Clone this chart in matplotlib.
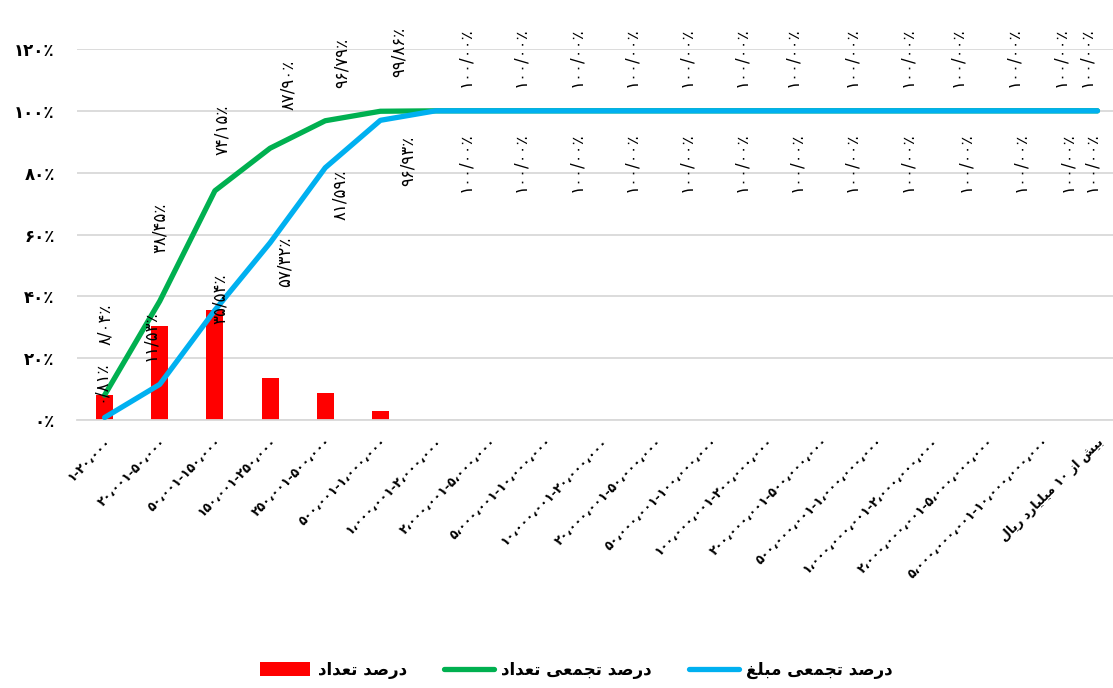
import re
import matplotlib
matplotlib.use('Agg')
import matplotlib.pyplot as plt
import numpy as np

plt.rcParams['font.family'] = ['DejaVu Sans']

# categories (rial ranges), written in latin digits and converted below
ranges = ['1-20,000', '20,001-50,000', '50,001-150,000', '150,001-250,000',
          '250,001-500,000', '500,001-1,000,000', '1,000,001-2,000,000',
          '2,000,001-5,000,000', '5,000,001-10,000,000', '10,000,001-20,000,000',
          '20,000,001-50,000,000', '50,000,001-100,000,000',
          '100,000,001-200,000,000', '200,000,001-500,000,000',
          '500,000,001-1,000,000,000', '1,000,000,001-2,000,000,000',
          '2,000,000,001-5,000,000,000', '5,000,000,001-10,000,000,000']
last_range = 'بیش از ۱۰ میلیارد ریال'

count_pct = [8.04, 30.41, 35.70, 13.75, 8.89, 3.07, 0.14, 0, 0, 0,
             0, 0, 0, 0, 0, 0, 0, 0, 0]
cum_count = [8.04, 38.45, 74.15, 87.90, 96.79, 99.86, 100, 100, 100, 100,
             100, 100, 100, 100, 100, 100, 100, 100, 100]
cum_amount = [0.81, 11.53, 35.54, 57.32, 81.59, 96.93, 100, 100, 100, 100,
              100, 100, 100, 100, 100, 100, 100, 100, 100]

legend_names = ['درصد تعداد', 'درصد تجمعی تعداد', 'درصد تجمعی مبلغ']

# label offsets in pixels (hand placed in the original)
g_dx = [0, 0, 7, 18, 17, 18, 30, 30, 30, 30, 30, 30, 26, 30, 30, 25, 26, 18, -11]
g_dy = [50, 48, 36, 38, 33, 34, 24, 24, 24, 24, 24, 24, 24, 24, 24, 24, 24, 24, 24]
b_dx = [-5, -10, 5, 15, 15, 27, 30, 30, 30, 30, 30, 30, 30, 30, 30, 33, 33, 25, -6]
b_dy = [57, 74, 37, 6, -2, -15, -22, -22, -22, -22, -22, -22, -22, -22, -22,
        -22, -22, -22, -22]

FA = str.maketrans('0123456789.,', '۰۱۲۳۴۵۶۷۸۹/،')

FORMS = {  # isolated, final, initial, medial
    'ا': '\uFE8D\uFE8E', 'د': '\uFEA9\uFEAA', 'ر': '\uFEAD\uFEAE',
    'ز': '\uFEAF\uFEB0',
    'ب': '\uFE8F\uFE90\uFE91\uFE92', 'ت': '\uFE95\uFE96\uFE97\uFE98',
    'ج': '\uFE9D\uFE9E\uFE9F\uFEA0', 'ش': '\uFEB5\uFEB6\uFEB7\uFEB8',
    'ص': '\uFEB9\uFEBA\uFEBB\uFEBC', 'ع': '\uFEC9\uFECA\uFECB\uFECC',
    'غ': '\uFECD\uFECE\uFECF\uFED0', 'ل': '\uFEDD\uFEDE\uFEDF\uFEE0',
    'م': '\uFEE1\uFEE2\uFEE3\uFEE4', 'ی': '\uFBFC\uFBFD\uFBFE\uFBFF',
}


def shape(text):
    # join letters and put them in visual (left to right) order
    out = []
    for i, ch in enumerate(text):
        f = FORMS.get(ch)
        if f is None:
            out.append(ch)
            continue
        prev = text[i - 1] if i > 0 else ''
        nxt = text[i + 1] if i + 1 < len(text) else ''
        jp = len(FORMS.get(prev, '')) == 4
        jn = len(f) == 4 and nxt in FORMS
        if jp and jn:
            out.append(f[3])
        elif jp:
            out.append(f[1])
        elif jn:
            out.append(f[2])
        else:
            out.append(f[0])
    vis = ''.join(out)[::-1]
    return re.sub(r'[۰-۹]+', lambda m: m.group(0)[::-1], vis)


def pct(v):
    return f'{v:.2f}'.translate(FA) + '٪'


xlabels = [r.translate(FA) for r in ranges] + [shape(last_range)]
x = np.arange(len(xlabels))

fig = plt.figure(figsize=(11.13, 6.88), dpi=100)
ax = fig.add_axes([0.0692, 0.3895, 0.9416, 0.5393])

bars = ax.bar(x, count_pct, width=0.31, color='#FF0000', zorder=2)
l1, = ax.plot(x, cum_count, color='#00B050', lw=3.8, solid_capstyle='round',
              zorder=3)
l2, = ax.plot(x, cum_amount, color='#00B0F0', lw=3.8, solid_capstyle='round',
              zorder=4)

for i in range(len(x)):
    ax.annotate(pct(cum_count[i]), (x[i], cum_count[i]), xytext=(g_dx[i], g_dy[i]),
                textcoords='offset pixels', rotation=90, ha='center', va='bottom',
                fontsize=12, zorder=5)
    ax.annotate(pct(cum_amount[i]), (x[i], cum_amount[i]), xytext=(b_dx[i], b_dy[i]),
                textcoords='offset pixels', rotation=90, ha='center', va='top',
                fontsize=12, zorder=5)

ax.set_xlim(-0.5, 18.5)
ax.set_ylim(0, 120)
yt = np.arange(0, 121, 20)
ax.set_yticks(yt)
ax.set_yticklabels([str(v).translate(FA) + '٪' for v in yt],
                   fontsize=12, fontweight='bold')
ax.set_xticks(x)
ax.set_xticklabels(xlabels, rotation=45, ha='right', va='top',
                   rotation_mode='anchor', fontsize=9, fontweight='bold')
ax.tick_params(axis='y', length=0, pad=16)
ax.tick_params(axis='x', length=0, pad=11)

ax.yaxis.grid(True, color='#D9D9D9', lw=1.3)
ax.set_axisbelow(True)
for s in ['top', 'left', 'right']:
    ax.spines[s].set_visible(False)
ax.spines['bottom'].set_color('#D9D9D9')
ax.spines['bottom'].set_linewidth(1.3)

fig.legend([bars, l1, l2], [shape(n) for n in legend_names],
           loc='center', bbox_to_anchor=(0.518, 0.026),
           ncol=3, frameon=False, handlelength=3.0, handleheight=0.9,
           handletextpad=0.45, columnspacing=2.2,
           prop={'size': 12, 'weight': 'bold'})

fig.savefig('out.png', dpi=100)
